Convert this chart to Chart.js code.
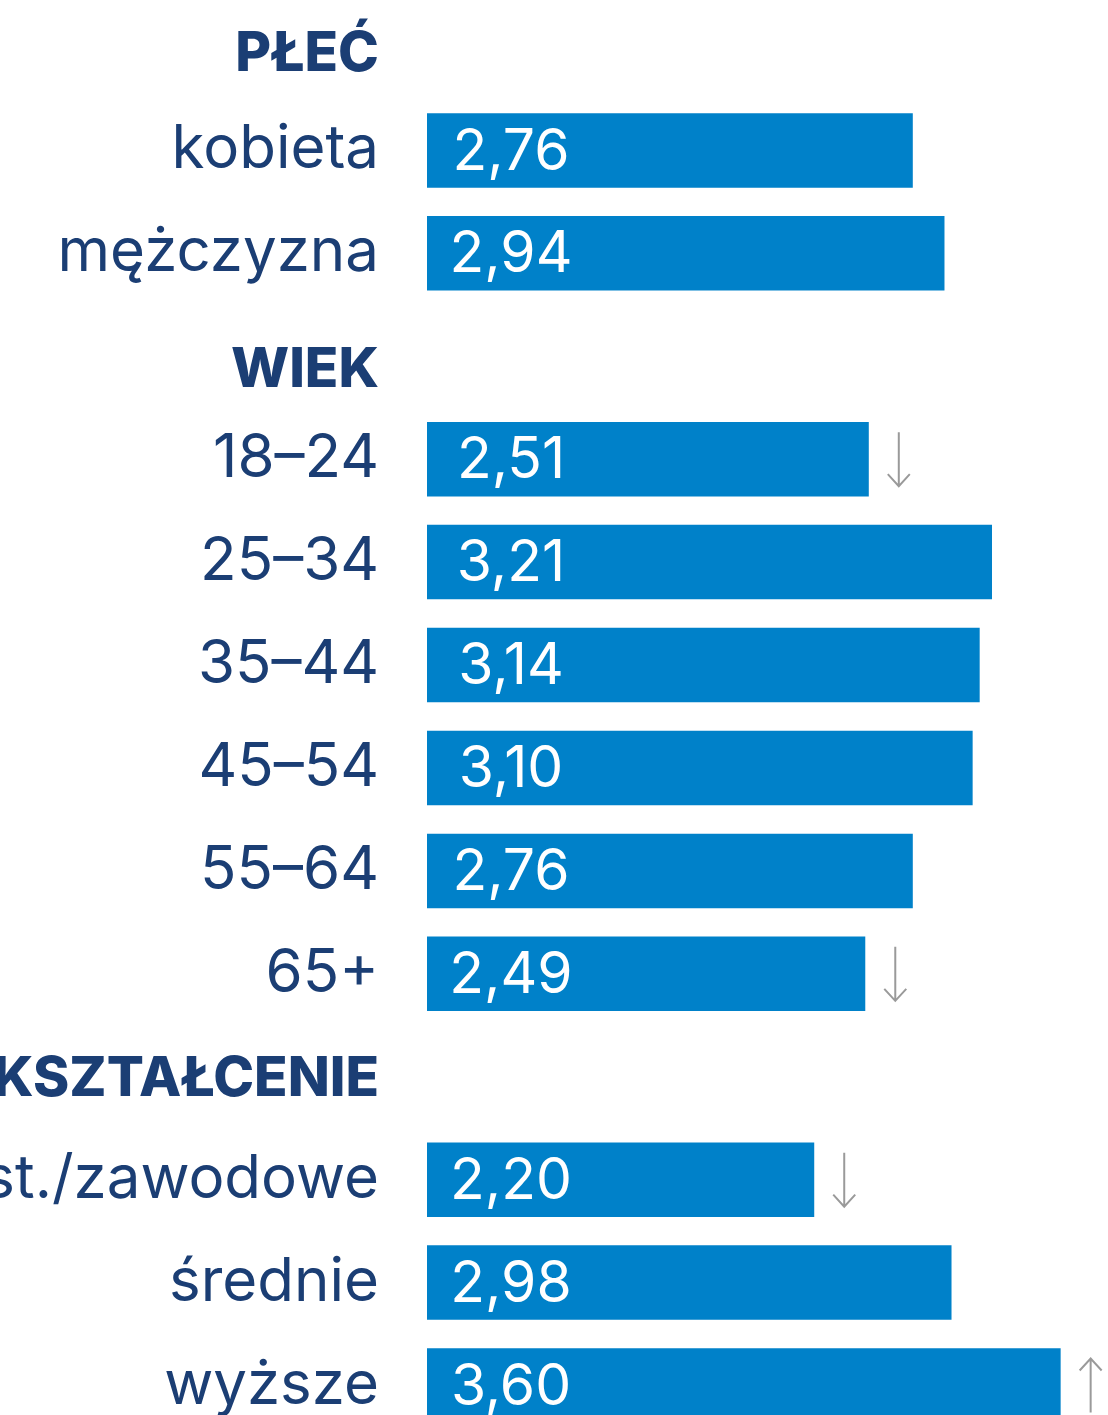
<!DOCTYPE html>
<html>
<head>
<meta charset="utf-8">
<script src="https://cdn.jsdelivr.net/npm/chart.js@4/dist/chart.umd.min.js"></script>
<style>
  html, body { margin: 0; padding: 0; background: #ffffff; overflow: hidden; width: 1108px; height: 1415px; }
  #wrap { position: absolute; left: 0; top: -4px; width: 1108px; height: 1441px; }
</style>
</head>
<body>
<div id="wrap"><canvas id="c" width="1108" height="1441"></canvas></div>
<script>
// ---- data ----
const categories = ['PŁEĆ', 'kobieta', 'mężczyzna', 'WIEK', '18–24', '25–34', '35–44', '45–54', '55–64', '65+', 'WYKSZTAŁCENIE', 'podst./zawodowe', 'średnie', 'wyższe'];
const isHeader   = [true, false, false, true, false, false, false, false, false, false, true, false, false, false];
const values     = [null, 2.76, 2.94, null, 2.51, 3.21, 3.14, 3.10, 2.76, 2.49, null, 2.20, 2.98, 3.60];
const valueLabels = ['', '2,76', '2,94', '', '2,51', '3,21', '3,14', '3,10', '2,76', '2,49', '', '2,20', '2,98', '3,60'];
const trends     = ['', '', '', '', 'down', '', '', '', '', 'down', '', 'down', '', 'up'];

// ---- styles ----
const NAVY = '#1b3e74';
const BAR = '#0081c9';
const ARROW = '#9a9a9a';
const FONT = 'Inter, "Noto Sans", sans-serif';
const headerShift = [7, 0, 0, 14, 0, 0, 0, 0, 0, 0, 3, 0, 0, 0];

const tickLabels = categories.map((c, i) => (isHeader[i] && headerShift[i]) ? ['', c] : c);

const overlay = {
  id: 'overlay',
  afterDatasetsDraw(chart) {
    const ctx = chart.ctx;
    const meta = chart.getDatasetMeta(0);
    const xs = chart.scales.x;
    const x0 = xs.getPixelForValue(0);
    ctx.save();
    meta.data.forEach((bar, i) => {
      if (values[i] == null) return;
      // value label
      ctx.fillStyle = '#ffffff';
      ctx.font = '400 57px ' + FONT;
      ctx.textAlign = 'center';
      ctx.textBaseline = 'middle';
      ctx.fillText(valueLabels[i], x0 + 84, bar.y + 2);
      // trend arrow
      const t = trends[i];
      if (t) {
        const ax = bar.x + 30;
        const top = bar.y - 27, bot = bar.y + 27;
        ctx.strokeStyle = ARROW;
        ctx.lineWidth = 2;
        ctx.beginPath();
        ctx.moveTo(ax, top); ctx.lineTo(ax, bot);
        if (t === 'down') {
          ctx.moveTo(ax - 11, bot - 12); ctx.lineTo(ax, bot); ctx.lineTo(ax + 11, bot - 12);
        } else {
          ctx.moveTo(ax - 11, top + 12); ctx.lineTo(ax, top); ctx.lineTo(ax + 11, top + 12);
        }
        ctx.stroke();
      }
    });
    ctx.restore();
  }
};

new Chart(document.getElementById('c'), {
  type: 'bar',
  data: {
    labels: tickLabels,
    datasets: [{
      data: values,
      backgroundColor: BAR,
      borderWidth: 0,
      barPercentage: 0.724,
      categoryPercentage: 1.0
    }]
  },
  options: {
    indexAxis: 'y',
    responsive: false,
    animation: false,
    devicePixelRatio: 1,
    layout: { padding: 0 },
    plugins: { legend: { display: false }, tooltip: { enabled: false } },
    scales: {
      x: {
        display: false,
        min: 0,
        max: 3.869
      },
      y: {
        afterFit(scale) {
          scale.width = 427;
          scale.paddingTop = 0;
          scale.paddingBottom = 0;
        },
        grid: { display: false, drawTicks: false },
        border: { display: false },
        ticks: {
          autoSkip: false,
          padding: 48,
          color: NAVY,
          font: (ctx) => {
            const i = ctx.index;
            if (isHeader[i]) {
              return { family: FONT, size: 55, weight: '800', lineHeight: (headerShift[i] * 2) + 'px' };
            }
            return { family: FONT, size: 60, weight: '400' };
          }
        }
      }
    }
  },
  plugins: [overlay]
});
</script>
</body>
</html>
